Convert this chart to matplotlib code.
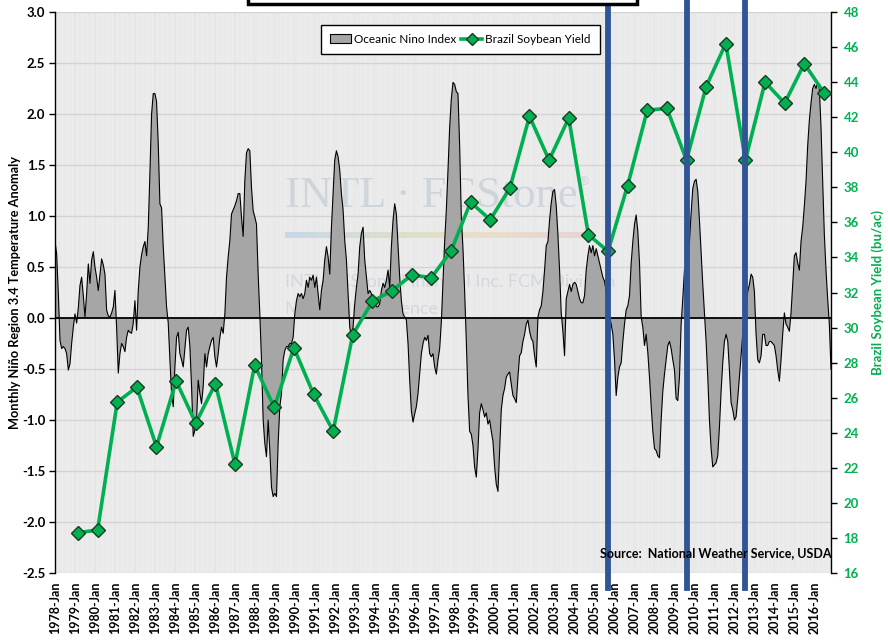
import numpy as np
import matplotlib
matplotlib.use("Agg")
import matplotlib.pyplot as plt
from matplotlib import font_manager
from matplotlib.patches import Patch, Rectangle
from matplotlib.lines import Line2D

installed = {f.name for f in font_manager.fontManager.ttflist}
narrow = "Liberation Sans Narrow" if "Liberation Sans Narrow" in installed else "Lato"
plt.rcParams["font.family"] = ["Lato", "DejaVu Sans"]

# monthly Nino 3.4 anomaly, 1978-Jan onwards (one row per year)
oni = [
    0.75, 0.63, 0.24, -0.22, -0.30, -0.28, -0.30, -0.35, -0.51, -0.45, -0.25, -0.09,
    0.04, -0.05, 0.10, 0.32, 0.40, 0.22, 0.01, 0.24, 0.53, 0.34, 0.57, 0.65,
    0.50, 0.40, 0.27, 0.43, 0.58, 0.52, 0.43, 0.08, 0.02, 0.01, 0.05, 0.11,
    0.27, -0.09, -0.54, -0.35, -0.25, -0.28, -0.33, -0.19, -0.12, -0.14, -0.15, -0.05,
    0.17, -0.12, 0.27, 0.50, 0.62, 0.70, 0.75, 0.61, 0.89, 1.42, 2.00, 2.20,
    2.20, 2.12, 1.71, 1.12, 1.08, 0.70, 0.40, 0.11, -0.05, -0.41, -0.74, -0.87,
    -0.48, -0.19, -0.14, -0.35, -0.41, -0.48, -0.30, -0.12, -0.09, -0.28, -0.67, -1.16,
    -1.10, -1.00, -0.61, -0.74, -0.84, -0.67, -0.35, -0.48, -0.35, -0.28, -0.22, -0.19,
    -0.38, -0.48, -0.35, -0.19, -0.09, -0.15, 0.04, 0.40, 0.60, 0.76, 1.02, 1.06,
    1.10, 1.15, 1.22, 1.22, 0.99, 0.80, 1.35, 1.62, 1.66, 1.64, 1.28, 1.05,
    0.99, 0.92, 0.43, 0.04, -0.41, -1.00, -1.23, -1.36, -1.00, -1.30, -1.66, -1.75,
    -1.72, -1.75, -1.23, -0.87, -0.74, -0.41, -0.32, -0.28, -0.28, -0.25, -0.25, -0.19,
    0.04, 0.17, 0.24, 0.21, 0.24, 0.19, 0.24, 0.37, 0.30, 0.40, 0.37, 0.42,
    0.30, 0.40, 0.24, 0.08, 0.27, 0.37, 0.57, 0.70, 0.60, 0.43, 0.89, 1.22,
    1.55, 1.64, 1.58, 1.45, 1.22, 1.06, 0.76, 0.57, 0.24, -0.09, -0.19, -0.09,
    0.14, 0.30, 0.43, 0.70, 0.83, 0.89, 0.57, 0.40, 0.24, 0.27, 0.24, 0.14,
    0.17, 0.11, 0.11, 0.14, 0.27, 0.34, 0.30, 0.37, 0.47, 0.30, 0.70, 0.96,
    1.12, 1.02, 0.70, 0.40, 0.17, 0.04, 0.01, -0.02, -0.25, -0.61, -0.91, -1.02,
    -0.94, -0.87, -0.74, -0.55, -0.35, -0.25, -0.19, -0.22, -0.17, -0.35, -0.38, -0.35,
    -0.48, -0.55, -0.41, -0.30, -0.04, 0.35, 0.75, 1.06, 1.45, 1.87, 2.15, 2.31,
    2.29, 2.22, 2.20, 1.69, 0.99, 0.68, 0.26, -0.23, -0.76, -1.11, -1.14, -1.25,
    -1.46, -1.56, -1.29, -0.93, -0.84, -0.90, -0.97, -0.93, -1.04, -1.00, -1.11, -1.21,
    -1.46, -1.63, -1.70, -1.29, -0.90, -0.76, -0.69, -0.58, -0.55, -0.53, -0.65, -0.76,
    -0.79, -0.83, -0.58, -0.37, -0.34, -0.23, -0.16, -0.06, -0.02, -0.13, -0.20, -0.23,
    -0.37, -0.48, 0.01, 0.08, 0.12, 0.26, 0.47, 0.71, 0.75, 0.96, 1.13, 1.24,
    1.26, 1.10, 0.82, 0.47, 0.05, -0.13, -0.37, 0.19, 0.26, 0.33, 0.26, 0.33,
    0.35, 0.33, 0.26, 0.19, 0.15, 0.15, 0.22, 0.47, 0.61, 0.71, 0.64, 0.71,
    0.61, 0.68, 0.61, 0.54, 0.47, 0.40, 0.36, 0.26, 0.12, 0.01, -0.06, -0.16,
    -0.41, -0.76, -0.58, -0.48, -0.44, -0.23, -0.06, 0.08, 0.12, 0.22, 0.54, 0.75,
    0.92, 1.01, 0.85, 0.54, 0.01, -0.09, -0.27, -0.16, -0.34, -0.58, -0.86, -1.11,
    -1.28, -1.30, -1.35, -1.37, -1.00, -0.72, -0.55, -0.41, -0.27, -0.23, -0.30, -0.41,
    -0.51, -0.79, -0.81, -0.58, -0.06, 0.19, 0.47, 0.50, 0.54, 0.75, 1.03, 1.27,
    1.34, 1.36, 1.24, 0.96, 0.64, 0.33, 0.05, -0.23, -0.58, -1.00, -1.28, -1.46,
    -1.44, -1.42, -1.35, -1.07, -0.72, -0.44, -0.23, -0.16, -0.23, -0.51, -0.83, -0.90,
    -1.00, -0.97, -0.79, -0.58, -0.37, -0.16, -0.02, 0.12, 0.26, 0.33, 0.43, 0.40,
    0.26, -0.16, -0.41, -0.44, -0.37, -0.16, -0.16, -0.27, -0.27, -0.23, -0.23, -0.25,
    -0.27, -0.37, -0.51, -0.62, -0.41, -0.16, 0.05, -0.06, -0.09, -0.13, 0.05, 0.33,
    0.61, 0.64, 0.54, 0.47, 0.75, 0.89, 1.10, 1.34, 1.69, 1.94, 2.11, 2.25,
    2.29, 2.25, 2.31, 2.25, 1.87, 1.34, 0.82, 0.47, 0.19, -0.06, -0.50,
]
label_years = list(range(1978, 2017))
tick_labels = [f"{y}-Jan" for y in label_years]

yield_years = list(range(1979, 2018))
soy_yield = [18.3, 18.45, 25.75, 26.6, 23.2, 26.95, 24.55, 26.8, 22.2, 27.85,
             25.45, 28.85, 26.2, 24.1, 29.6, 31.5, 32.1, 33.0, 32.85, 34.35,
             37.15, 36.15, 37.95, 42.05, 39.55, 41.95, 35.3, 34.35, 38.1, 42.4,
             42.5, 39.55, 43.75, 46.2, 39.55, 44.0, 42.8, 45.05, 43.4]
highlight_years = [2006, 2010, 2013]

green = "#00B050"
n = len(oni)
x = np.arange(n)

fig = plt.figure(figsize=(8.88, 6.44), dpi=100)
rect = [55 / 888, 71 / 644, 776 / 888, 561 / 644]
ax = fig.add_axes(rect, facecolor="#E6E6E6")

# streaky background and gridlines
ax.set_xticks(x, minor=True)
ax.grid(which="minor", axis="x", color="white", lw=0.35, alpha=0.75, zorder=0)
ax.grid(which="major", axis="y", color="#D4D4D4", lw=1.0, zorder=0)
ax.set_axisbelow(True)

# watermark
wm = "#C3CCD7"
big = ax.text(0.296, 0.672, "INTL \u00b7 FCStone", transform=ax.transAxes, fontsize=32,
              family="Liberation Serif", color=wm, alpha=0.7, va="center", zorder=0.6)
ax.annotate("\u00ae", xy=(1.0, 0.85), xycoords=big, fontsize=9, family="DejaVu Sans",
            color=wm, alpha=0.7, va="center", ha="left", zorder=0.6)
grad = np.linspace(0, 1, 200)[None, :]
ax.imshow(grad, cmap=matplotlib.colors.LinearSegmentedColormap.from_list(
    "wm", ["#BFD3E6", "#D7DDC8", "#E8DCC0", "#E6CFCF"]),
    extent=(0.296, 0.689, 0.598, 0.608), transform=ax.transAxes,
    aspect="auto", alpha=0.8, zorder=0.6)
ax.text(0.296, 0.518, "INTL FCStone Financial Inc. FCM Division", transform=ax.transAxes,
        fontsize=13, color=wm, alpha=0.6, va="center", zorder=0.6)
ax.text(0.296, 0.470, "Market Intelligence", transform=ax.transAxes,
        fontsize=13, color=wm, alpha=0.6, va="center", zorder=0.6)

ax.fill_between(x, 0, oni, facecolor="#A6A6A6", edgecolor="none", zorder=2)
ax.plot(x, oni, color="black", lw=0.8, zorder=3)
ax.axhline(0, color="black", lw=1.3, zorder=4)

ax.set_xlim(0, n - 1)
ax.set_ylim(-2.5, 3.0)
ax.set_yticks(np.arange(-2.5, 3.01, 0.5))
ax.set_yticklabels([f"{v:.1f}" for v in np.arange(-2.5, 3.01, 0.5)])
ax.set_xticks(np.arange(0, n, 12)[:len(tick_labels)])
ax.set_xticklabels(tick_labels, rotation=90, fontsize=9, fontweight="bold")
ax.tick_params(axis="x", which="both", length=0, pad=6)
ax.tick_params(axis="y", length=4, width=1, pad=3, labelsize=9.5)
for lab in ax.get_yticklabels():
    lab.set_fontweight("bold")
for s in ["top", "right", "bottom"]:
    ax.spines[s].set_visible(False)
ax.spines["left"].set_linewidth(1)
ax.set_ylabel("Monthly Ni\u00f1o Region 3.4 Temperature Anomaly", fontsize=9.2,
              fontweight="bold", labelpad=1)

# secondary axes for yield
ax2 = fig.add_axes(rect, facecolor="none")
xi = np.arange(len(soy_yield))
ax2.plot(xi, soy_yield, color=green, lw=2.6, marker="D", markersize=7.5,
         markerfacecolor=green, markeredgecolor="#1a3a22", markeredgewidth=1, zorder=5)
ax2.set_xlim(-1.17, 38.36)
ax2.set_ylim(16, 48)
ax2.set_xticks([])
ax2.yaxis.tick_right()
ax2.yaxis.set_label_position("right")
ax2.set_yticks(range(16, 49, 2))
ax2.tick_params(axis="y", length=4, width=1, pad=5, labelsize=9.5, labelcolor=green)
for lab in ax2.get_yticklabels():
    lab.set_fontweight("bold")
for s in ["top", "left", "bottom"]:
    ax2.spines[s].set_visible(False)
ax2.spines["right"].set_linewidth(1)
ax2.set_ylabel("Brazil Soybean Yield (bu/ac)", fontsize=9.5, fontweight="bold",
               color=green, labelpad=9)

for yr in highlight_years:
    ax2.axvline(yield_years.index(yr), ymin=-0.026, ymax=1.03, color="#2F5597",
                lw=4.2, clip_on=False, zorder=10)

handles = [Patch(facecolor="#A6A6A6", edgecolor="black", lw=0.8, label="Oceanic Nino Index"),
           Line2D([], [], color=green, lw=2.6, marker="D", markersize=6,
                  markerfacecolor=green, markeredgecolor="#1a3a22",
                  label="Brazil Soybean Yield")]
leg = ax2.legend(handles=handles, loc="upper left", bbox_to_anchor=(0.343, 0.977),
                 borderaxespad=0, ncol=2, frameon=True, fancybox=False,
                 edgecolor="black", framealpha=1, columnspacing=0.4,
                 handlelength=1.8, handletextpad=0.25, borderpad=0.75,
                 prop={"family": narrow, "size": 8.5})
leg.get_frame().set_linewidth(1)
leg.set_zorder(12)

fig.text(600 / 888, 1 - 553 / 644, "Source:  National Weather Service, USDA",
         fontsize=9, fontweight="bold", family=narrow, va="center", ha="left")

# title box cut off at top edge
fig.patches.append(Rectangle((248 / 888, 1 - 4 / 644), 389 / 888, 0.06,
                             transform=fig.transFigure, facecolor="white",
                             edgecolor="black", lw=2.5, zorder=20))

fig.savefig("out.png", dpi=100, facecolor="white")
